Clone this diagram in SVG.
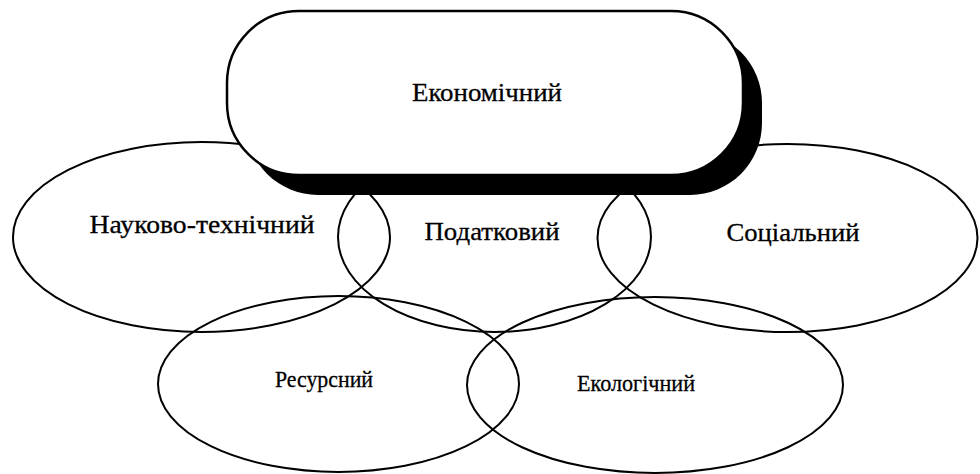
<svg xmlns="http://www.w3.org/2000/svg" width="980" height="474" viewBox="0 0 980 474">
<style>
.ell{fill:none;stroke:#000;stroke-width:2}
.lbl{font-family:"Liberation Serif","Times New Roman",serif;font-size:25px;fill:#000;stroke:#000;stroke-width:0.3;text-anchor:middle}
.sm{font-size:24px}
</style>
<rect width="980" height="474" fill="#fff"/>
<g id="connectors"></g>
<g id="node-naukovo"><ellipse class="ell" cx="201.5" cy="237" rx="188.5" ry="95"/><text class="lbl" x="202" y="233" textLength="225" lengthAdjust="spacingAndGlyphs">Науково-технічний</text></g>
<g id="node-podatkovyi"><ellipse class="ell" cx="494.5" cy="237" rx="156.5" ry="95"/><text class="lbl" x="492" y="240" textLength="135" lengthAdjust="spacingAndGlyphs">Податковий</text></g>
<g id="node-sotsialnyi"><ellipse class="ell" cx="787.5" cy="238" rx="190" ry="94"/><text class="lbl" x="793" y="241" textLength="133" lengthAdjust="spacingAndGlyphs">Соціальний</text></g>
<g id="node-resursnyi"><ellipse class="ell" cx="338.5" cy="384" rx="180.5" ry="88"/><text class="lbl sm" x="324" y="387" textLength="98" lengthAdjust="spacingAndGlyphs">Ресурсний</text></g>
<g id="node-ekolohichnyi"><ellipse class="ell" cx="655" cy="385" rx="188" ry="88"/><text class="lbl sm" x="636" y="391" textLength="118" lengthAdjust="spacingAndGlyphs">Екологічний</text></g>
<g id="node-ekonomichnyi">
<rect x="246" y="31" width="516" height="164" rx="72" ry="72" fill="#000"/>
<rect x="227" y="11" width="516" height="164" rx="72" ry="72" fill="#fff" stroke="#000" stroke-width="2.5"/>
<text class="lbl" x="487" y="101" textLength="150" lengthAdjust="spacingAndGlyphs">Економічний</text>
</g>
</svg>
